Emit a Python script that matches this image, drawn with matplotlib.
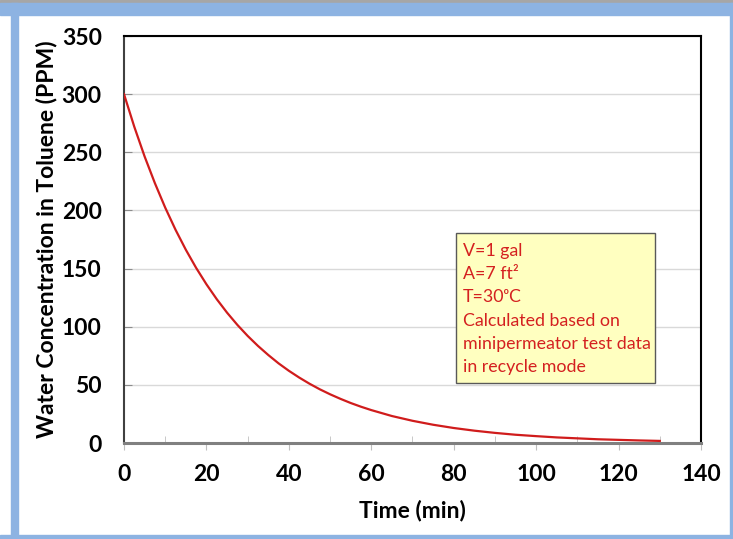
import matplotlib
matplotlib.use("Agg")
import matplotlib.pyplot as plt
from matplotlib.patches import Rectangle
from matplotlib.ticker import MultipleLocator

# values (min, ppm)
time_min = [0, 2.5, 5, 7.5, 10, 12.5, 15, 17.5, 20, 22.5, 25, 27.5, 30, 32.5,
            35, 37.5, 40, 42.5, 45, 47.5, 50, 52.5, 55, 57.5, 60, 65,
            70, 75, 80, 85, 90, 95, 100, 105, 110, 115, 120, 125, 130]
water_ppm = [300, 271.9, 246.4, 223.4, 202.4, 183.4, 166.2, 150.6, 136.5, 123.7,
             112.1, 101.6, 92.1, 83.5, 75.7, 68.5, 62.1, 56.3, 51.0, 46.2,
             41.9, 38.0, 34.4, 31.2, 28.3, 23.2, 19.1, 15.7, 12.9, 10.6, 8.7, 7.1,
             5.9, 4.8, 4.0, 3.2, 2.7, 2.2, 1.8]

note_lines = ["V=1 gal", "A=7 ft\u00b2", "T=30\u1d52C", "Calculated based on",
              "minipermeator test data", "in recycle mode"]

W, H = 733, 539
fig = plt.figure(figsize=(W / 100, H / 100), dpi=100)
fig.patch.set_facecolor("white")

# slide frame
def px_rect(x0, y0, x1, y1, color):
    fig.patches.append(Rectangle((x0 / W, 1 - y1 / H), (x1 - x0) / W, (y1 - y0) / H,
                                 transform=fig.transFigure, color=color, zorder=0))

px_rect(0, 0, W, 3, "#a6a6a6")
px_rect(0, 3, W, 15, "#8db3e2")
px_rect(11, 3, 18, H, "#8db3e2")
px_rect(730, 3, W, H, "#8db3e2")
px_rect(0, 535, W, H, "#8db3e2")

ax = fig.add_axes([124 / W, 1 - 443 / H, 577 / W, 407 / H])
ax.plot(time_min, water_ppm, color="#d01c1c", lw=1.6, zorder=3)

ax.set_xlim(0, 140)
ax.set_ylim(0, 350)
ax.xaxis.set_major_locator(MultipleLocator(20))
ax.xaxis.set_minor_locator(MultipleLocator(10))
ax.yaxis.set_major_locator(MultipleLocator(50))
ax.grid(axis="y", color="#d9d9d9", lw=1.0, zorder=0)

font = "Lato"
fs = 16.5
for lab in ax.get_xticklabels() + ax.get_yticklabels():
    lab.set_fontfamily(font)
    lab.set_fontweight("bold")
    lab.set_fontsize(fs)
ax.tick_params(axis="x", which="major", direction="out", length=5, color="#bfbfbf", pad=10)
ax.tick_params(axis="x", which="minor", direction="in", length=5, color="#bfbfbf")
ax.tick_params(axis="y", which="major", direction="in", length=6, color="#8c8c8c", pad=16)

for s in ["top", "right"]:
    ax.spines[s].set_color("black")
    ax.spines[s].set_linewidth(1.5)
ax.spines["left"].set_color("#404040")
ax.spines["left"].set_linewidth(1.5)
ax.spines["bottom"].set_color("#808080")
ax.spines["bottom"].set_linewidth(2.2)

ax.set_xlabel("Time (min)", fontfamily=font, fontweight="bold", fontsize=fs, labelpad=11)
ax.set_ylabel("Water Concentration in Toluene (PPM)", fontfamily=font, fontweight="bold",
              fontsize=fs, labelpad=3)

# note box
bx0, by0 = (456 - 124) / 577, (443 - 383) / 407
bw, bh = (655 - 456) / 577, (383 - 233) / 407
ax.add_patch(Rectangle((bx0, by0), bw, bh, transform=ax.transAxes, facecolor="#ffffc0",
                       edgecolor="#595959", lw=1.0, zorder=4))
for i, line in enumerate(note_lines):
    ypx = 251 + i * 23.2
    ax.text((463 - 124) / 577, (443 - ypx) / 407, line, transform=ax.transAxes,
            fontfamily=[font, "DejaVu Sans"], fontsize=12.8, color="#d42020",
            va="center", ha="left", zorder=5)

fig.savefig("out.png", dpi=100)
